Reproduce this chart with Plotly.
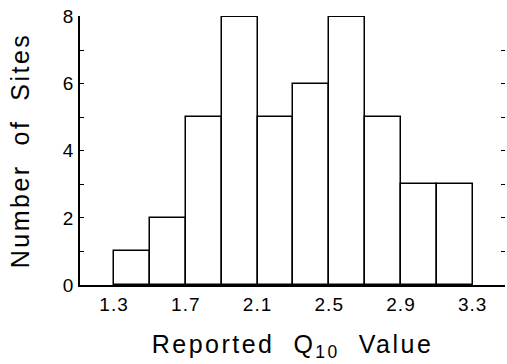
import plotly.graph_objects as go

bin_left = [1.3, 1.5, 1.7, 1.9, 2.1, 2.3, 2.5, 2.7, 2.9, 3.1]
counts = [1, 2, 5, 8, 5, 6, 8, 5, 3, 3]
bin_width = 0.2
x_ticks = [1.3, 1.7, 2.1, 2.5, 2.9, 3.3]
y_ticks = [0, 2, 4, 6, 8]

centers = [b + bin_width / 2 for b in bin_left]
FONT = "Liberation Sans"

fig = go.Figure()
fig.add_trace(go.Bar(
    x=centers, y=counts, width=bin_width,
    marker=dict(color="white", line=dict(color="black", width=1.5)),
    showlegend=False, hoverinfo="skip"
))
# invisible trace for right-side tick axis
fig.add_trace(go.Scatter(x=[1.3], y=[0], yaxis="y2", mode="markers",
                         marker=dict(opacity=0), showlegend=False, hoverinfo="skip"))

fig.update_layout(
    width=507, height=364,
    margin=dict(l=80, r=2, t=16, b=79),
    paper_bgcolor="white", plot_bgcolor="white",
    font=dict(family=FONT, color="black"),
    bargap=0,
    xaxis=dict(
        range=[1.11, 3.48], tickvals=x_ticks, ticktext=[f"{v:.1f}" for v in x_ticks],
        showgrid=False, zeroline=False, showline=True, linecolor="black", linewidth=1.5,
        ticks="", tickfont=dict(size=19, family=FONT), automargin=False,
        ticklabelstandoff=1,
        title=dict(text="Reported\u00a0\u00a0Q<sub>10</sub>\u00a0\u00a0Value",
                   font=dict(size=25, family=FONT), standoff=22),
    ),
    yaxis=dict(
        range=[0, 8.02], tickvals=y_ticks,
        showgrid=False, zeroline=False, showline=True, linecolor="black", linewidth=1.5,
        ticks="inside", ticklen=4, tickwidth=1, tickcolor="black",
        minor=dict(dtick=1, tick0=0, ticks="inside", ticklen=4, tickwidth=1, tickcolor="black"),
        tickfont=dict(size=19, family=FONT), automargin=False,
        title=dict(text="Number\u00a0\u00a0of\u00a0\u00a0Sites",
                   font=dict(size=25, family=FONT), standoff=27),
    ),
    yaxis2=dict(
        range=[0, 8.02], tickvals=y_ticks, overlaying="y", side="right",
        showgrid=False, zeroline=False, showline=False, showticklabels=False,
        ticks="inside", ticklen=4, tickwidth=1, tickcolor="black", automargin=False,
        minor=dict(dtick=1, tick0=0, ticks="inside", ticklen=4, tickwidth=1, tickcolor="black"),
    ),
)

post = ("document.body.style.margin='0';"
        "document.querySelectorAll('.xtitle, .ytitle').forEach(function(e){e.style.letterSpacing='2.5px';});"
        "document.querySelectorAll('.xtick text, .ytick text').forEach(function(e){e.style.letterSpacing='1px';});")
fig.write_html("out.html", post_script=post, config={"displayModeBar": False})
